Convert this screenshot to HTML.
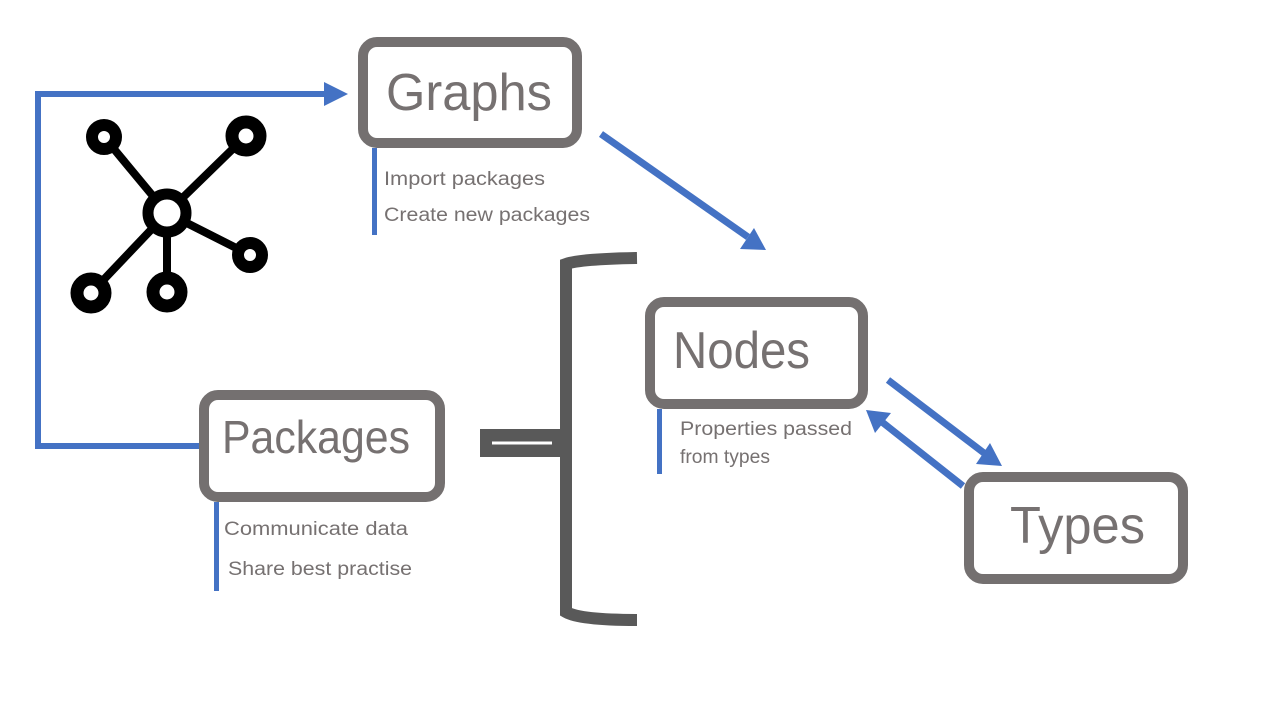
<!DOCTYPE html>
<html><head><meta charset="utf-8"><style>html,body{margin:0;padding:0;background:#fff}svg{display:block}</style></head>
<body>
<svg width="1280" height="720" viewBox="0 0 1280 720" xmlns="http://www.w3.org/2000/svg" font-family="Liberation Sans, sans-serif">
<polyline points="199,446 38,446 38,94 328,94" fill="none" stroke="#4472c4" stroke-width="6"/>
<path d="M324,82 L348,94 L324,106 z" fill="#4472c4"/>
<line x1="601" y1="134" x2="748" y2="237" stroke="#4472c4" stroke-width="7"/>
<path d="M740,249 L766,250 L754,228 z" fill="#4472c4"/>
<line x1="888" y1="380" x2="984" y2="453" stroke="#4472c4" stroke-width="7"/>
<path d="M976,464 L1002,466 L990,443 z" fill="#4472c4"/>
<line x1="963" y1="486" x2="882" y2="422" stroke="#4472c4" stroke-width="7"/>
<path d="M866,410 L875,433 L891,413 z" fill="#4472c4"/>
<g stroke="#000" stroke-width="8" fill="#fff">
<line x1="167" y1="213" x2="104" y2="137"/>
<line x1="167" y1="213" x2="246" y2="136"/>
<line x1="167" y1="213" x2="250" y2="255"/>
<line x1="167" y1="213" x2="91" y2="293"/>
<line x1="167" y1="213" x2="167" y2="292"/>
<circle cx="167" cy="213" r="19" stroke-width="11"/>
<circle cx="104" cy="137" r="12" stroke-width="12"/>
<circle cx="246" cy="136" r="14" stroke-width="13"/>
<circle cx="250" cy="255" r="12" stroke-width="12"/>
<circle cx="91" cy="293" r="14" stroke-width="13"/>
<circle cx="167" cy="292" r="14" stroke-width="13"/>
</g>
<path d="M637,258 Q580,259 566,264 L566,612 Q580,620 637,620" fill="none" stroke="#595959" stroke-width="12"/>
<rect x="480" y="429" width="86" height="28" fill="#595959"/>
<line x1="492" y1="443" x2="552" y2="443" stroke="#fff" stroke-width="3"/>
<g fill="#fff" stroke="#747070" stroke-width="10">
<rect x="363" y="42" width="214" height="101" rx="14"/>
<rect x="650" y="302" width="213" height="102" rx="14"/>
<rect x="204" y="395" width="236" height="102" rx="14"/>
<rect x="969" y="477" width="214" height="102" rx="14"/>
</g>
<g fill="#4472c4">
<rect x="372" y="148" width="5" height="87"/>
<rect x="214" y="502" width="5" height="89"/>
<rect x="657" y="409" width="5" height="65"/>
</g>
<g fill="#767171" font-size="52">
<text x="386" y="110" textLength="166" lengthAdjust="spacingAndGlyphs">Graphs</text>
<text x="673" y="368" textLength="137" lengthAdjust="spacingAndGlyphs">Nodes</text>
<text x="222" y="453" textLength="188" lengthAdjust="spacingAndGlyphs" font-size="46">Packages</text>
<text x="1010" y="543" textLength="135" lengthAdjust="spacingAndGlyphs">Types</text>
</g>
<g fill="#767171" font-size="19">
<text x="384" y="185" textLength="161" lengthAdjust="spacingAndGlyphs">Import packages</text>
<text x="384" y="221" textLength="206" lengthAdjust="spacingAndGlyphs">Create new packages</text>
<text x="680" y="435" textLength="172" lengthAdjust="spacingAndGlyphs">Properties passed</text>
<text x="680" y="463" textLength="90" lengthAdjust="spacingAndGlyphs">from types</text>
<text x="224" y="535" textLength="184" lengthAdjust="spacingAndGlyphs">Communicate data</text>
<text x="228" y="575" textLength="184" lengthAdjust="spacingAndGlyphs">Share best practise</text>
</g>
</svg>
</body></html>
